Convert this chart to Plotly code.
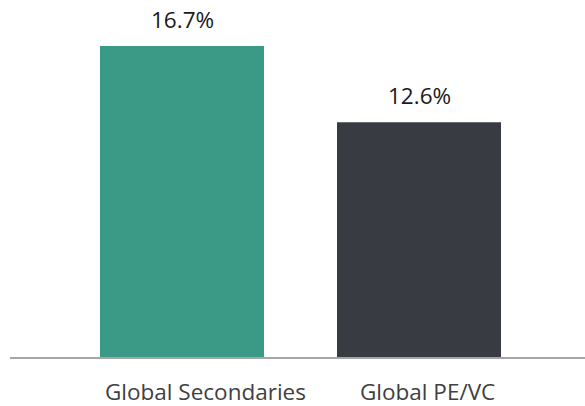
import plotly.graph_objects as go

categories = ["Global Secondaries", "Global PE/VC"]
values = [16.7, 12.6]
value_labels = ["16.7%", "12.6%"]
colors = ["#3B9A86", "#383B42"]
label_shift = [23, 8]

fig = go.Figure()
fig.add_trace(go.Bar(x=categories, y=values, marker=dict(color=colors, line=dict(width=0)),
                     hoverinfo="skip"))

for c, v, t in zip(categories, values, value_labels):
    fig.add_annotation(x=c, y=v, xref="x", yref="y", text=t, showarrow=False,
                       yanchor="bottom", yshift=10, borderpad=0,
                       font=dict(family="Open Sans", size=22.5, color="#1a1a1a"))

for c, s in zip(categories, label_shift):
    fig.add_annotation(x=c, y=0, xref="x", yref="y", text=c, showarrow=False,
                       yanchor="top", yshift=-18, xshift=s, borderpad=0,
                       font=dict(family="Open Sans", size=22.5, color="#404040"))

fig.update_layout(
    width=585, height=406,
    margin=dict(l=10, r=0, t=0, b=49),
    paper_bgcolor="white", plot_bgcolor="white",
    bargap=0.308,
    showlegend=False,
    xaxis=dict(type="category", range=[-0.7257, 1.7004], showticklabels=False,
               showline=True, linecolor="#A6A6A6", linewidth=2, ticks="",
               showgrid=False, zeroline=False, fixedrange=True),
    yaxis=dict(range=[0, 19.17], visible=False, showgrid=False, zeroline=False,
               fixedrange=True),
)

fig.write_html("out.html", config={"displayModeBar": False},
               post_script="document.body.style.margin='0';document.body.style.overflow='hidden';")
